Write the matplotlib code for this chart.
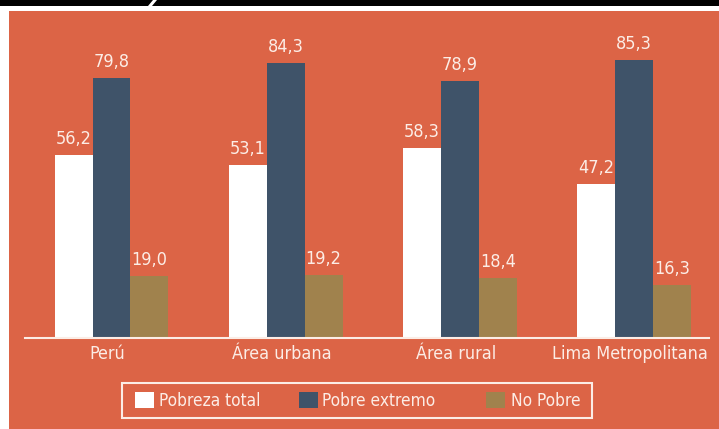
import matplotlib
matplotlib.use("Agg")
import matplotlib.pyplot as plt
from matplotlib.patches import Rectangle, Polygon
from matplotlib import font_manager
from matplotlib.transforms import ScaledTranslation
import numpy as np

categories = ["Perú", "Área urbana", "Área rural", "Lima Metropolitana"]
series_names = ["Pobreza total", "Pobre extremo", "No Pobre"]
pobreza_total = [56.2, 53.1, 58.3, 47.2]
pobre_extremo = [79.8, 84.3, 78.9, 85.3]
no_pobre = [19.0, 19.2, 18.4, 16.3]

ORANGE = "#DC6446"
DARK = "#3F5369"
TAN = "#A0824D"
WHITE = "#FFFFFF"
CREAM = "#FCEDE6"

cond = None
for f in font_manager.fontManager.ttflist:
    n = f.fname.lower()
    if ("narrow" in n or "condensed" in n) and "bold" not in n and "oblique" not in n and "italic" not in n:
        cond = f.fname
        break
if cond:
    FP = lambda size: font_manager.FontProperties(fname=cond, size=size)
    S_LAB, S_TICK, S_LEG = 13, 12.9, 12.4
else:
    FP = lambda size: font_manager.FontProperties(family="Roboto", size=size)
    S_LAB, S_TICK, S_LEG = 12, 11.5, 11.5

W, H = 719, 429
fig = plt.figure(figsize=(W / 100, H / 100), dpi=100)
fig.patch.set_facecolor("white")

def px(x0, y0, x1, y1):
    return (x0 / W, 1 - y1 / H, (x1 - x0) / W, (y1 - y0) / H)

def frect(x0, y0, x1, y1, **kw):
    r = px(x0, y0, x1, y1)
    fig.patches.append(Rectangle((r[0], r[1]), r[2], r[3], transform=fig.transFigure, **kw))

frect(9, 11, 719, 429, facecolor=ORANGE, edgecolor="none", zorder=-10)
frect(0, 0, 719, 6, facecolor="black", edgecolor="none", zorder=-10)
pts = [(148, 6), (152, 6), (157, 0), (153, 0)]
fig.patches.append(Polygon([(x / W, 1 - y / H) for x, y in pts], closed=True,
                           transform=fig.transFigure, facecolor="white",
                           edgecolor="none", zorder=-9))

ax = fig.add_axes(px(25, 12, 709, 338))
ax.set_facecolor("none")

x = np.arange(len(categories))
w = 0.218
series = [pobreza_total, pobre_extremo, no_pobre]
colors = [WHITE, DARK, TAN]
for i, (vals, c) in enumerate(zip(series, colors)):
    bars = ax.bar(x + (i - 1) * w, vals, width=w, color=c, edgecolor="none", zorder=2)
    for b, v in zip(bars, vals):
        ax.annotate(f"{v:.1f}".replace(".", ","), (b.get_x() + b.get_width() / 2, v),
                    xytext=(0, 5), textcoords="offset points", ha="center", va="bottom",
                    color=CREAM, fontproperties=FP(S_LAB))

ax.set_xlim(-(111.5 - 25) / 174.2, (709 - 111.5) / 174.2)
ax.set_ylim(0, 100)
for s in ["top", "right", "left"]:
    ax.spines[s].set_visible(False)
ax.spines["bottom"].set_color(CREAM)
ax.spines["bottom"].set_linewidth(1.5)
ax.set_yticks([])
ax.set_xticks(x)
ax.set_xticklabels(categories, color=CREAM, fontproperties=FP(S_TICK))
ax.tick_params(axis="x", length=0, pad=5)
shift = ScaledTranslation(-4 / 100, 0, fig.dpi_scale_trans)
for lab in ax.get_xticklabels():
    lab.set_transform(lab.get_transform() + shift)

frect(122, 383, 592, 418, facecolor="none", edgecolor=CREAM, linewidth=1.5, zorder=3)
leg_sq_x = [135, 299, 486]
leg_tx_x = [159, 322, 511]
for sx, tx, name, c in zip(leg_sq_x, leg_tx_x, series_names, colors):
    frect(sx, 392, sx + 19, 408, facecolor=c, edgecolor="none", zorder=3)
    fig.text(tx / W, 1 - 401 / H, name, ha="left", va="center", color=CREAM,
             fontproperties=FP(S_LEG))

fig.savefig("out.png", dpi=100, facecolor="white")
